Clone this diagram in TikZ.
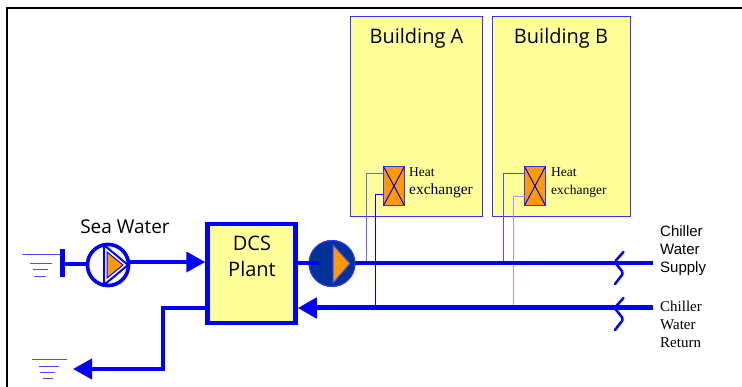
\documentclass[tikz,border=0pt]{standalone}
\usepackage{fontspec}
\setmainfont{Open Sans}
\newfontfamily\serifface{Liberation Serif}
\newfontfamily\arialface{Liberation Sans}
\usetikzlibrary{arrows.meta}
\definecolor{pipeblue}{RGB}{0,0,255}
\definecolor{padyellow}{RGB}{255,255,153}
\definecolor{hxorange}{RGB}{255,153,0}
\definecolor{pumpnavy}{RGB}{0,51,153}
\tikzset{
  building/.style={draw=pipeblue!80, line width=1pt, fill=padyellow, inner sep=0pt, outer sep=0pt, minimum width=#1, minimum height=200pt},
  hxbox/.style={draw=pipeblue!80, line width=1pt, fill=hxorange, inner sep=0pt, outer sep=0pt, minimum width=21pt, minimum height=39pt},
  plantbox/.style={draw=pipeblue, line width=4.5pt, fill=padyellow, inner sep=0pt, minimum width=88pt, minimum height=99pt, align=center},
  mainpipe/.style={draw=pipeblue, line width=4pt},
  feedpipe/.style={draw=pipeblue, line width=1pt},
  head/.style={-{Triangle[length=19pt,width=20pt]}},
  waterline/.style={draw=pipeblue!70, line width=1pt},
  lab/.style={anchor=west, inner sep=0pt, align=left}
}
\begin{document}
\begin{tikzpicture}[x=1pt,y=-1pt]
  \useasboundingbox (0,0) rectangle (742,387);
  % The frame on two sides
  \draw [line width=2pt] (7,387) -- (7,8) -- (742,8);

  % Buildings and their heat exchangers
  \foreach \name/\cx/\bw/\hx in {A/416.5/132pt/394, B/561.5/138pt/535} {
    \node [building=\bw] (bld\name) at (\cx,116.5) {};
    \node [hxbox] (hx\name) at (\hx,186) {};
    \draw [feedpipe] (hx\name.north west) -- (hx\name.south east);
    \draw [feedpipe] (hx\name.north east) -- (hx\name.south west);
  }
  \node [font=\fontsize{20}{24}\selectfont] (lblA) at (416.5,38) {Building A};
  \node [font=\fontsize{20}{24}\selectfont] (lblB) at (561,38) {Building B};
  \node [lab, font=\serifface\fontsize{13.5}{18}\selectfont] (txtA) at (409,183) {Heat\\{\fontsize{15.5}{18}\selectfont exchanger}};
  \node [lab, font=\serifface\fontsize{13.5}{18}\selectfont] (txtB) at (551,183) {Heat\\exchanger};

  % The plant and the pumps
  \node [plantbox] (plant) at (251.5,273.5) {};
  \node [align=center, font=\fontsize{20}{26}\selectfont, inner sep=0pt] (plantlbl) at (252,256.5) {DCS\\Plant};
  \node [circle, draw=pipeblue, line width=3.5pt, fill=white, minimum size=41pt, inner sep=0pt] (seapump) at (108,265) {};
  \node [circle, draw=pipeblue!80, line width=1pt, fill=pumpnavy, minimum size=46pt, inner sep=0pt] (chillpump) at (332,263.5) {};
  \node [font=\fontsize{19}{23}\selectfont, inner sep=0pt] (sealbl) at (125,226.5) {Sea Water};

  % Named ends of the pipes
  \coordinate (seabar) at (62,264);
  \coordinate (barup) at (62,249);
  \coordinate (bardn) at (62,277);
  \coordinate (plantin) at (plant.west |- 0,262);
  \coordinate (plantout) at (plant.west |- 0,308);
  \coordinate (bend) at (163,308);
  \coordinate (seaout) at (73,369);
  \coordinate (stub) at (319,263);
  \coordinate (plantstub) at (plant.east |- 0,263);
  \coordinate (supplyend) at (653,263);
  \coordinate (returnend) at (653,308);
  \coordinate (returnin) at (plant.east |- 0,308);
  \coordinate (tapA) at (366.5,263);
  \coordinate (tapB) at (503.5,263);
  \coordinate (backA) at (375.5,308);
  \coordinate (backB) at (513.5,308);
  \coordinate (hxAtop) at (383.5,173.5);
  \coordinate (hxAlow) at (383.5,194.5);
  \coordinate (hxBtop) at (524.5,173.5);
  \coordinate (hxBlow) at (524.5,196.5);

  % Feeds to the heat exchangers
  \draw [feedpipe, pipeblue!60] (hxAtop) -| (tapA);
  \draw [feedpipe] (hxAlow) -| (backA);
  \draw [feedpipe, pipeblue!70] (hxBtop) -| (tapB);
  \draw [feedpipe, pipeblue!40, line width=1pt] (hxBlow) -| (backB);

  % Main pipes
  \draw [mainpipe, line width=5pt] (barup) -- (bardn);
  \draw [mainpipe] (seabar) -- (seapump.center |- seabar);
  \draw [mainpipe, head] (seapump.center |- plantin) -- (plantin);
  \draw [mainpipe] (plantout) -- (bend) -- (bend |- seaout) -- (92,369);
  \draw [mainpipe, head] (bend |- seaout) -- (seaout);
  \draw [mainpipe] (chillpump.center |- supplyend) -- (supplyend);
  \draw [mainpipe, line width=5pt, head] (returnend) -- (returnin);

  % Pump faces, over the pipes
  \node [circle, draw=pipeblue, line width=3.5pt, fill=white, minimum size=41pt, inner sep=0pt] at (seapump) {};
  \draw [draw=pipeblue, line width=2pt, fill=white] (104,245) -- (128,265) -- (104,285) -- cycle;
  \draw [draw=pipeblue, line width=1pt, fill=hxorange] (107,252) -- (123,265) -- (107,278) -- cycle;
  \node [circle, draw=pipeblue!80, line width=1pt, fill=pumpnavy, minimum size=46pt, inner sep=0pt] at (chillpump) {};
  \draw [mainpipe] (plantstub) -- (stub);
  \draw [draw=pipeblue!70, line width=1pt, fill=hxorange] (333,245) -- (350,263.5) -- (333,283) -- cycle;

  % Pipe break marks
  \foreach \y in {0, 46} {
    \draw [draw=pipeblue, line width=2.5pt, line cap=round, rounded corners=2pt, fill=none]
      (623.5,252+\y) -- (614.5,262+\y) -- (623.5,273+\y) -- (615,284+\y);
  }

  % Sea level marks
  \foreach \ya/\xa/\xb in {254.5/22/60, 263.5/30/52, 269.5/33/48, 276.5/34/46,
                           359.5/32/67, 366.5/39/59, 372.5/40/55, 378.5/43/53} {
    \draw [waterline] (\xa,\ya) -- (\xb,\ya);
  }

  % Labels at the pipe ends
  \node [lab, font=\arialface\fontsize{15}{17.7}\selectfont] (supplylbl) at (660,250.5) {Chiller\\Water\\Supply};
  \node [lab, font=\serifface\fontsize{15}{18}\selectfont] (returnlbl) at (660,324) {Chiller\\Water\\Return};
\end{tikzpicture}
\end{document}
